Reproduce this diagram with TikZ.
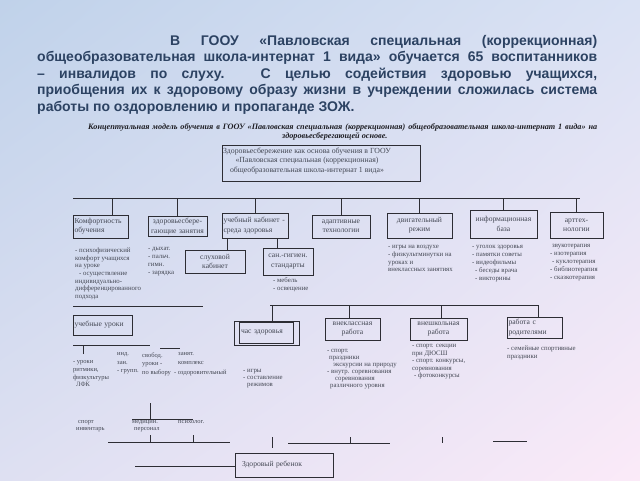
\documentclass[tikz,border=0pt]{standalone}
\usepackage{fontspec}
\usetikzlibrary{shadings}
\setmainfont{Liberation Serif}
\newfontfamily\parafont{Liberation Sans}
\definecolor{paratext}{RGB}{44,66,98}
\definecolor{ink}{RGB}{45,45,52}
\definecolor{txt}{RGB}{68,72,84}
\definecolor{ttlc}{RGB}{30,30,36}
\definecolor{bgA}{RGB}{192,210,234}
\definecolor{bgB}{RGB}{218,226,244}
\definecolor{bgC}{RGB}{222,224,242}
\definecolor{bgD}{RGB}{251,234,248}
\begin{document}
\begin{tikzpicture}[x=1pt,y=-1pt,
  ln/.style={draw=ink, line width=0.9pt},
  bx/.style={draw=ink, line width=0.9pt, inner sep=0pt, font=\fontsize{7.6}{9.3}\selectfont, text=txt},
  lst/.style={font=\fontsize{6.8}{7.7}\selectfont, text=txt, align=left, inner sep=0pt, anchor=north west},
  para/.style={font=\parafont\bfseries\fontsize{14}{16}\selectfont, text=paratext, inner sep=0pt, anchor=base west},
  ttl/.style={font=\bfseries\itshape\fontsize{8.2}{10}\selectfont, text=ttlc, inner sep=0pt, anchor=base west}]
\shade[upper left=bgA, upper right=bgB, lower left=bgC, lower right=bgD] (0,0) rectangle (640,480);
\useasboundingbox (0,0) rectangle (640,480);

% paragraph
\node[para] (p1) at (170,45) {\makebox[427pt][s]{В ГООУ «Павловская специальная (коррекционная)}};
\node[para] (p2) at (37,61.5) {\makebox[560pt][s]{общеобразовательная школа-интернат 1 вида» обучается 65 воспитанников}};
\node[para] (p3) at (37,78) {\makebox[560pt][s]{– инвалидов по слуху. С целью содействия здоровью учащихся,}};
\node[para] (p4) at (37,94.5) {\makebox[560pt][s]{приобщения их к здоровому образу жизни в учреждении сложилась система}};
\node[para] (p5) at (37,111) {работы по оздоровлению и пропаганде ЗОЖ.};

% title
\node[ttl] (t1) at (88,129) {\makebox[509pt][s]{Концептуальная модель обучения в ГООУ «Павловская специальная (коррекционная) общеобразовательная школа-интернат 1 вида» на}};
\node[ttl] (t2) at (282,138) {здоровьесберегающей основе.};

% top box
\node[bx, minimum width=198pt, minimum height=36pt] (top) at (321,163) {};
\node[font=\fontsize{7.8}{9.5}\selectfont, text=txt, align=center, inner sep=0pt, anchor=north] (toptxt) at (307,147.5)
  {Здоровьесбережение как основа обучения в ГООУ\\«Павловская специальная (коррекционная)\\общеобразовательная школа-интернат 1 вида»};

% row 2 boxes
\node[bx, minimum width=55pt, minimum height=23pt, text width=52pt, align=left] (b1) at (100.5,226.5) {Комфортность\\обучения};
\node[bx, minimum width=59pt, minimum height=20pt, text width=57pt, align=center] (b2) at (177.5,226.5) {здоровьесбере-\\гающие занятия};
\node[bx, minimum width=66pt, minimum height=25pt, text width=63pt, align=left] (b3) at (255,225.5) {учебный кабинет -\\среда здоровья};
\node[bx, minimum width=58pt, minimum height=23pt, text width=55pt, align=center] (b4) at (341,226.5) {адаптивные\\технологии};
\node[bx, minimum width=65pt, minimum height=25pt, text width=62pt, align=center] (b5) at (419.5,225.5) {двигательный\\режим};
\node[bx, minimum width=67pt, minimum height=28pt, text width=65pt, align=center] (b6) at (503.5,224) {информационная\\база};
\node[bx, minimum width=53pt, minimum height=26pt, text width=50pt, align=center] (b7) at (576.5,225) {арттех-\\нологии};
\node[bx, minimum width=60pt, minimum height=23pt, text width=57pt, align=center] (s1) at (215,261.5) {слуховой\\кабинет};
\node[bx, minimum width=50pt, minimum height=27pt, text width=48pt, align=center] (s2) at (288,261.5) {сан.-гигиен.\\стандарты};

\coordinate (busA) at (73,198);
\coordinate (busB) at (580,198);
\draw[ln] (busA) -- (busB);
\draw[ln] ([xshift=12pt]b1.north) -- ([xshift=12pt]b1.north |- busA);
\foreach \n in {b2,b3,b4,b5,b6,b7} \draw[ln] (\n.north) -- (\n.north |- busA);
\draw[ln] ([xshift=12pt]s1.north) -- ([xshift=12pt]s1.north |- b3.south);
\draw[ln] ([xshift=-11pt]s2.north) -- ([xshift=-11pt]s2.north |- b3.south);

% row 2 lists
\node[lst] (l1) at (75,247.5) {- психофизический\\комфорт учащихся\\на уроке\\\hspace*{4pt}- осуществление\\индивидуально-\\дифференцированного\\подхода};
\node[lst, font=\fontsize{6.8}{8}\selectfont] (l2) at (148,247.5) {- дыхат.\\- пальч.\\гимн.\\- зарядка};
\node[lst, font=\fontsize{6.8}{8}\selectfont] (l3) at (273,277.5) {- мебель\\- освещение};
\node[lst, font=\fontsize{6.8}{7.6}\selectfont] (l5) at (388,245.5) {- игры на воздухе\\- физкультминутки на\\уроках и\\внеклассных занятиях};
\node[lst, font=\fontsize{6.8}{7.8}\selectfont] (l6) at (472,245.5) {- уголок здоровья\\- памятки советы\\- видеофильмы\\\hspace*{3pt}- беседы врача\\\hspace*{3pt}- викторины};
\node[lst, font=\fontsize{6.8}{8}\selectfont] (l7) at (550,244.5) {\hspace*{2pt}звукотерапия\\- изотерапия\\\hspace*{2pt}- куклотерапия\\- библиотерапия\\- сказкотерапия};

% row 3 boxes
\node[bx, minimum width=59pt, minimum height=20pt, text width=56pt, align=left] (u) at (102.5,325) {учебные уроки};
\node[bx, minimum width=65pt, minimum height=24pt, text width=51pt, align=left] (h) at (266.5,333) {час здоровья};
\draw[ln] ([shift={(6,2)}]h.north west) rectangle ([shift={(-6,-2)}]h.south east);
\node[bx, minimum width=55pt, minimum height=22pt, text width=53pt, align=center] (v) at (352.5,329) {внеклассная\\работа};
\node[bx, minimum width=57pt, minimum height=22pt, text width=55pt, align=center] (w) at (438.5,329) {внешкольная\\работа};
\node[bx, minimum width=55pt, minimum height=21pt, text width=52pt, align=left] (r) at (534.5,327.5) {работа с\\родителями};

\coordinate (busC) at (73,306);
\coordinate (busD) at (203,306);
\coordinate (busE) at (270,305);
\coordinate (busF) at (538,305);
\draw[ln] (busC) -- (busD);
\draw[ln] (busE) -- (busF);
\draw[ln] ([xshift=5.5pt]h.north) -- ([xshift=5.5pt]h.north |- busE);
\draw[ln] ([xshift=-3.5pt]v.north) -- ([xshift=-3.5pt]v.north |- busE);
\draw[ln] ([xshift=2.5pt]w.north) -- ([xshift=2.5pt]w.north |- busE);
\draw[ln] ([xshift=3.5pt]r.north) -- ([xshift=3.5pt]r.north |- busE);

% row 3 lists
\node[lst, font=\fontsize{6.8}{6.9}\selectfont] (lh) at (243,369.5) {- игры\\- составление\\\hspace*{4pt}режимов};
\node[lst, font=\fontsize{6.8}{7}\selectfont] (lv) at (327,349.5) {- спорт.\\\hspace*{2pt}праздники\\\hspace*{6pt}экскурсии на природу\\- внутр. соревнования\\\hspace*{8pt}соревнования\\\hspace*{3pt}различного уровня};
\node[lst, font=\fontsize{6.8}{7.5}\selectfont] (lw) at (412,344.5) {- спорт. секции\\при ДЮСШ\\- спорт. конкурсы,\\соревнования\\\hspace*{2pt}- фотоконкурсы};
\node[lst, font=\fontsize{6.8}{8}\selectfont] (lr) at (507,345.5) {- семейные спортивные\\праздники};

% under "учебные уроки"
\coordinate (ua) at (73,345);
\coordinate (ub) at (150,345);
\coordinate (uc) at (160,348);
\coordinate (ud) at (180,348);
\coordinate (ue) at (83,354);
\draw[ln] (ua) -- (ub);
\draw[ln] (uc) -- (ud);
\draw[ln] (ue) -- (ue |- ua);
\node[lst, font=\fontsize{6.5}{7.7}\selectfont] (c1) at (73,360.5) {- уроки\\ритмики,\\физкультуры\\\hspace*{3pt}ЛФК};
\node[lst, font=\fontsize{6.5}{8.5}\selectfont] (c2) at (117,352.5) {инд.\\зан.\\- групп.};
\node[lst, font=\fontsize{6.5}{8.5}\selectfont] (c3) at (142,352.5) {свобод.\\уроки -\\по выбору};
\node[lst, font=\fontsize{6.5}{8.5}\selectfont] (c4) at (178,352.5) {занят.\\комплекс};
\node[lst, font=\fontsize{6.5}{8.5}\selectfont] (c5) at (174,369.5) {- оздоровительный};

% bottom
\node[lst, font=\fontsize{6.5}{7}\selectfont] (d1) at (76,420.5) {\hspace*{2pt}спорт\\инвентарь};
\node[lst, font=\fontsize{6.5}{7}\selectfont] (d2) at (132,420.5) {медицин.\\\hspace*{2pt}персонал};
\node[lst, font=\fontsize{6.5}{7}\selectfont] (d3) at (178,420.5) {психолог.};
\coordinate (ma) at (150,403);
\coordinate (mb) at (150,419);
\coordinate (mc) at (132,419);
\coordinate (md) at (193,419);
\draw[ln] (ma) -- (mb);
\draw[ln] (mc) -- (md);
\coordinate (ga) at (108,442);
\coordinate (gb) at (230,442);
\draw[ln] (ga) -- (gb);
\coordinate (gt1) at (150,435);
\coordinate (gt2) at (193,435);
\draw[ln] (gt1) -- (gt1 |- ga);
\draw[ln] (gt2) -- (gt2 |- ga);
\coordinate (gc) at (288,443);
\coordinate (gd) at (390,443);
\draw[ln] (gc) -- (gd);
\coordinate (gt3) at (350,437);
\draw[ln] (gt3) -- (gt3 |- gc);
\coordinate (gt4) at (272,437);
\coordinate (gt4b) at (272,448);
\draw[ln] (gt4) -- (gt4b);
\coordinate (gt5) at (442,437);
\coordinate (gt5b) at (442,443);
\draw[ln] (gt5) -- (gt5b);
\coordinate (ge) at (493,441);
\coordinate (gf) at (527,441);
\draw[ln] (ge) -- (gf);

\node[bx, minimum width=98pt, minimum height=24pt, text width=84pt, align=left] (z) at (284,465) {Здоровый ребенок};
\coordinate (zin) at (135,466);
\draw[ln] (zin) -- (zin -| z.west);
\end{tikzpicture}
\end{document}
